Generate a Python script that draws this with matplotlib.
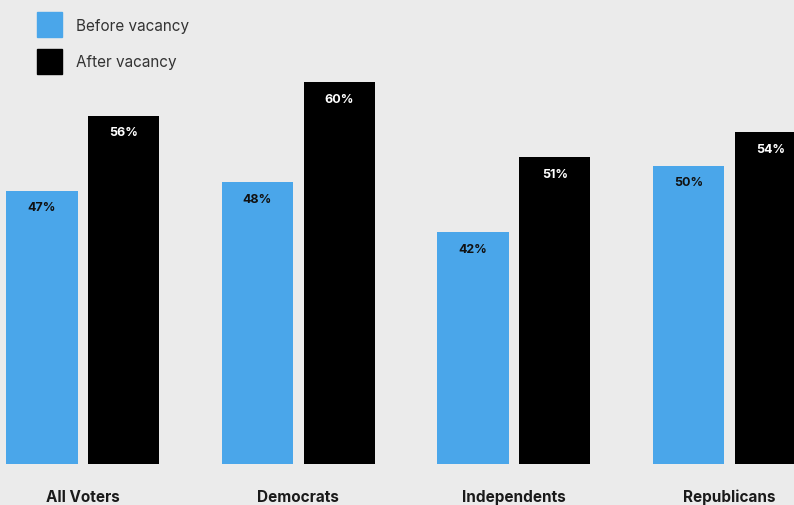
import matplotlib.pyplot as plt
from matplotlib.patches import Rectangle
import numpy as np

# data
groups = ["All Voters", "Democrats", "Independents", "Republicans"]
before = [47, 48, 42, 50]
after = [56, 60, 51, 54]
series_names = ["Before vacancy", "After vacancy"]

BG = "#ebebeb"
BLUE = "#4aa6ea"
BLACK = "#000000"

plt.rcParams["font.family"] = ["Inter", "DejaVu Sans"]

W, H = 794, 506
fig = plt.figure(figsize=(W / 100, H / 100), dpi=100, facecolor=BG)
ax = fig.add_axes([0, 1 - 465 / H, 1, 465 / H])
ax.set_facecolor(BG)

x = np.arange(len(groups))
width = 0.330
off = 0.190

b1 = ax.bar(x - off, before, width, color=BLUE, zorder=2)
b2 = ax.bar(x + off, after, width, color=BLACK, zorder=2)

ax.set_xlim(-0.385, 3.300)
ax.set_ylim(14.2, 70)

for bars, vals, col in ((b1, before, "#111111"), (b2, after, "white")):
    for r, v in zip(bars, vals):
        ax.annotate(f"{v}%", xy=(r.get_x() + r.get_width() / 2, v),
                    xytext=(0, -12), textcoords="offset points",
                    ha="center", va="center", fontsize=9, fontweight="bold",
                    color=col)

for xi, g in zip(x, groups):
    ax.annotate(g, xy=(xi, 14.2), xytext=(0, -26.5), textcoords="offset points",
                ha="center", va="baseline", fontsize=11, fontweight="bold",
                color="#1a1a1a", annotation_clip=False)

for s in ax.spines.values():
    s.set_visible(False)
ax.set_xticks([])
ax.set_yticks([])

# legend drawn by hand in pixel positions
for i, (name, col) in enumerate(zip(series_names, [BLUE, BLACK])):
    y0 = 13 + i * 37
    fig.patches.append(Rectangle((37 / W, 1 - (y0 + 25) / H), 25 / W, 25 / H,
                                 transform=fig.transFigure, color=col))
    fig.text(76 / W, 1 - (y0 + 13) / H, name, ha="left", va="center",
             fontsize=11, color="#333333")

fig.savefig("out.png", dpi=100, facecolor=BG)
